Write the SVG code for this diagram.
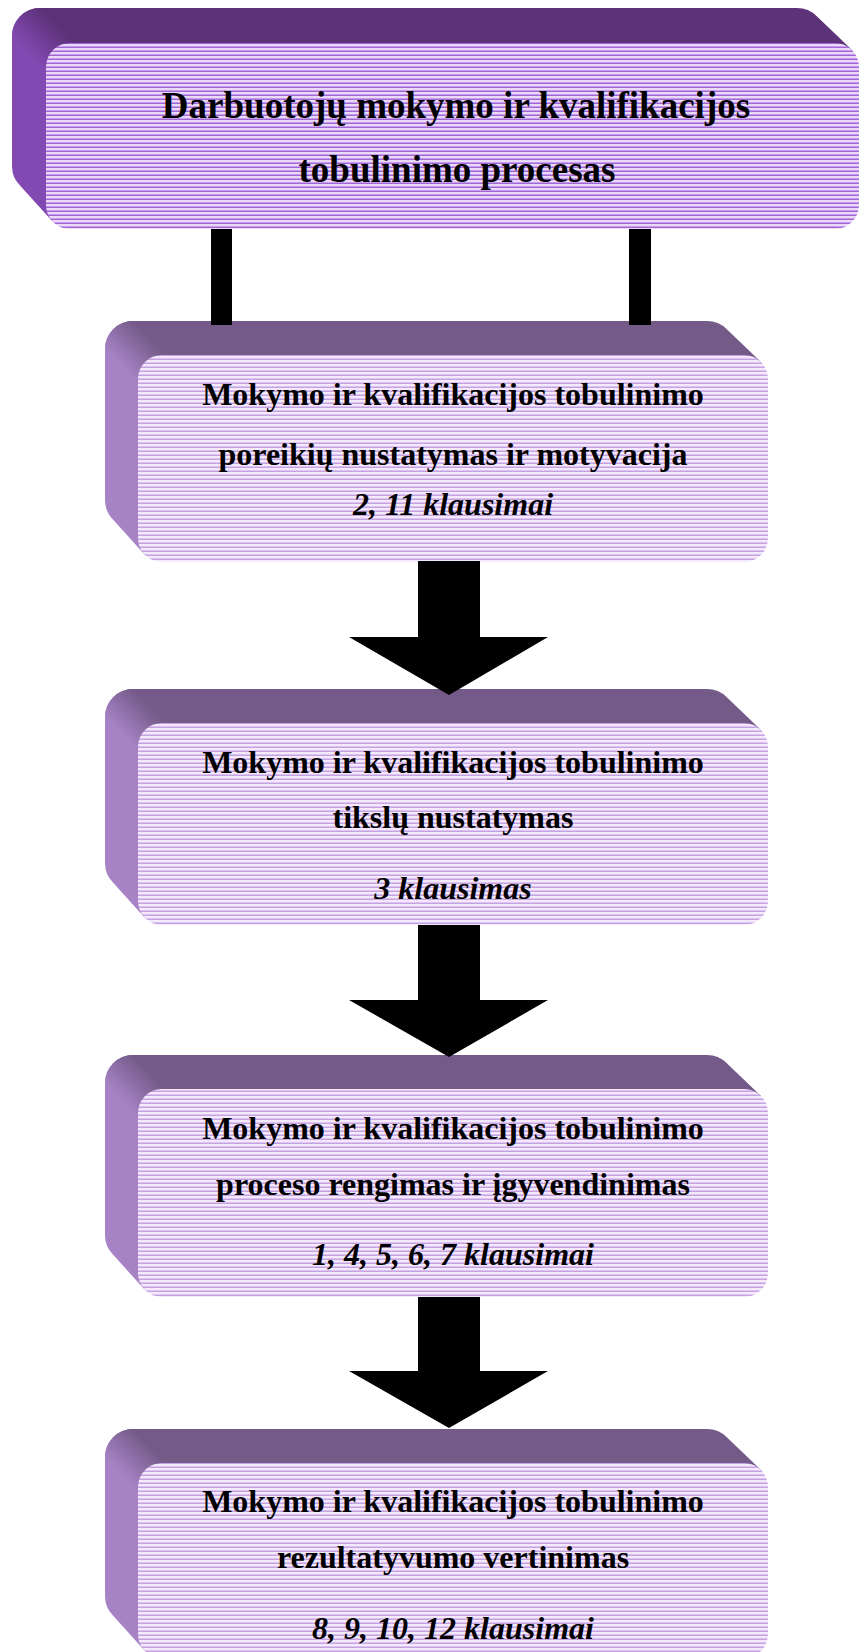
<svg xmlns="http://www.w3.org/2000/svg" width="860" height="1652" viewBox="0 0 860 1652">
<defs>
<pattern id="stripeTop" patternUnits="userSpaceOnUse" x="0" y="0" width="4" height="4">
<rect width="4" height="4" fill="#ead9f9"/>
<rect y="2" width="4" height="1" fill="#c49de9"/>
<rect y="3" width="4" height="1" fill="#a366d9"/>
</pattern>
<pattern id="stripeBox" patternUnits="userSpaceOnUse" x="0" y="0" width="4" height="4">
<rect width="4" height="4" fill="#f4eafc"/>
<rect y="2" width="4" height="1" fill="#dcc3f0"/>
<rect y="3" width="4" height="1" fill="#c5a2e3"/>
</pattern>
<linearGradient id="cornerTop" x1="0" y1="1" x2="1" y2="0">
<stop offset="0.3" stop-color="#8349b3"/>
<stop offset="0.7" stop-color="#5c3278"/>
</linearGradient>
<linearGradient id="cornerBox" x1="0" y1="1" x2="1" y2="0">
<stop offset="0.3" stop-color="#a783c6"/>
<stop offset="0.7" stop-color="#735a88"/>
</linearGradient>
</defs>
<style>
.t{font-family:"Liberation Serif","Times New Roman",serif;font-weight:bold;fill:#000;text-anchor:middle}
.ti{font-style:italic}
.topSide1{fill:#5c3278}
.leftSide1{fill:#8349b3}
.topSide{fill:#735a88}
.leftSide{fill:#a783c6}
.c1{fill:url(#cornerTop)}
.c{fill:url(#cornerBox)}
.face1{fill:url(#stripeTop)}
.face{fill:url(#stripeBox)}
.bar{fill:#000}
</style>

<g id="node-top">
<path class="leftSide1" d="M20.2,16.2 L53,50 L53,222 L20.2,185.8 A28,28 0 0 1 12,166 L12,36 A28,28 0 0 1 20.2,16.2 Z"/>
<path class="topSide1" d="M20.2,16.2 A28,28 0 0 1 40,8 L797,8 A28,28 0 0 1 816.8,16.2 L852,50 L53,50 Z"/>
<path class="c1" d="M12,46 L12,36 A28,28 0 0 1 40,8 L50,8 L84,43 L46,81 Z"/>
<rect class="face1" x="46" y="43" width="813" height="186" rx="24"/>
<text class="t" x="456" y="118" font-size="37">Darbuotojų mokymo ir kvalifikacijos</text>
<text class="t" x="457" y="182" font-size="37">tobulinimo procesas</text>
</g>

<g id="node-1">
<path class="leftSide" d="M113.2,329.2 L145,362 L145,555 L113.2,519.8 A28,28 0 0 1 105,500 L105,349 A28,28 0 0 1 113.2,329.2 Z"/>
<path class="topSide" d="M113.2,329.2 A28,28 0 0 1 133,321 L707,321 A28,28 0 0 1 726.8,329.2 L761,362 L145,362 Z"/>
<path class="c" d="M105,359 L105,349 A28,28 0 0 1 133,321 L143,321 L176,355 L138,393 Z"/>
<rect class="face" x="138" y="355" width="630" height="207" rx="24"/>
<text class="t" x="453" y="405" font-size="32">Mokymo ir kvalifikacijos tobulinimo</text>
<text class="t" x="453" y="465" font-size="32">poreikių nustatymas ir motyvacija</text>
<text class="t ti" x="453" y="515" font-size="32">2, 11 klausimai</text>
</g>

<g id="node-2">
<path class="leftSide" d="M113.2,697.2 L145,730 L145,918 L113.2,882.8 A28,28 0 0 1 105,863 L105,717 A28,28 0 0 1 113.2,697.2 Z"/>
<path class="topSide" d="M113.2,697.2 A28,28 0 0 1 133,689 L707,689 A28,28 0 0 1 726.8,697.2 L761,730 L145,730 Z"/>
<path class="c" d="M105,727 L105,717 A28,28 0 0 1 133,689 L143,689 L176,723 L138,761 Z"/>
<rect class="face" x="138" y="723" width="630" height="202" rx="24"/>
<text class="t" x="453" y="773" font-size="32">Mokymo ir kvalifikacijos tobulinimo</text>
<text class="t" x="453" y="828" font-size="32">tikslų nustatymas</text>
<text class="t ti" x="453" y="899" font-size="32">3 klausimas</text>
</g>

<g id="node-3">
<path class="leftSide" d="M113.2,1063.2 L145,1096 L145,1290 L113.2,1254.8 A28,28 0 0 1 105,1235 L105,1083 A28,28 0 0 1 113.2,1063.2 Z"/>
<path class="topSide" d="M113.2,1063.2 A28,28 0 0 1 133,1055 L707,1055 A28,28 0 0 1 726.8,1063.2 L761,1096 L145,1096 Z"/>
<path class="c" d="M105,1093 L105,1083 A28,28 0 0 1 133,1055 L143,1055 L176,1089 L138,1127 Z"/>
<rect class="face" x="138" y="1089" width="630" height="208" rx="24"/>
<text class="t" x="453" y="1139" font-size="32">Mokymo ir kvalifikacijos tobulinimo</text>
<text class="t" x="453" y="1195" font-size="32">proceso rengimas ir įgyvendinimas</text>
<text class="t ti" x="453" y="1265" font-size="32">1, 4, 5, 6, 7 klausimai</text>
</g>

<g id="node-4">
<path class="leftSide" d="M113.2,1437.2 L145,1470 L145,1651 L113.2,1615.8 A28,28 0 0 1 105,1596 L105,1457 A28,28 0 0 1 113.2,1437.2 Z"/>
<path class="topSide" d="M113.2,1437.2 A28,28 0 0 1 133,1429 L707,1429 A28,28 0 0 1 726.8,1437.2 L761,1470 L145,1470 Z"/>
<path class="c" d="M105,1467 L105,1457 A28,28 0 0 1 133,1429 L143,1429 L176,1463 L138,1501 Z"/>
<rect class="face" x="138" y="1463" width="630" height="195" rx="24"/>
<text class="t" x="453" y="1512" font-size="32">Mokymo ir kvalifikacijos tobulinimo</text>
<text class="t" x="453" y="1568" font-size="32">rezultatyvumo vertinimas</text>
<text class="t ti" x="453" y="1639" font-size="32">8, 9, 10, 12 klausimai</text>
</g>

<g id="connectors">
<rect class="bar" x="211" y="229" width="21" height="96"/>
<rect class="bar" x="629" y="229" width="22" height="96"/>
<polygon class="bar" points="418,561 480,561 480,637 548,637 449,695 349,637 418,637"/>
<polygon class="bar" points="418,925 480,925 480,1000 548,1000 449,1057 349,1000 418,1000"/>
<polygon class="bar" points="418,1297 480,1297 480,1371 548,1371 449,1428 349,1371 418,1371"/>
</g>
</svg>
